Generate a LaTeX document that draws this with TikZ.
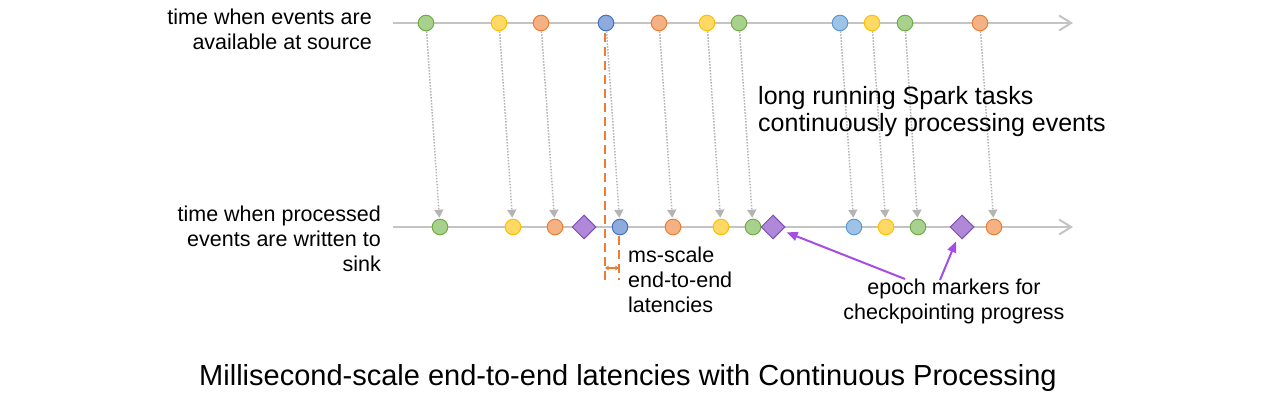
\documentclass[tikz,border=0pt]{standalone}
\usepackage{fontspec}
\setmainfont{Liberation Sans}
\usetikzlibrary{shapes.geometric}
\usetikzlibrary{arrows.meta}
\usetikzlibrary{positioning}

\definecolor{axisgray}{HTML}{C4C4C4}
\definecolor{flowgray}{HTML}{B4B4B4}
\definecolor{evgreenfill}{HTML}{A9D18E}
\definecolor{evgreenline}{HTML}{70AD47}
\definecolor{evyellowfill}{HTML}{FFD966}
\definecolor{evyellowline}{HTML}{FFC000}
\definecolor{evorangefill}{HTML}{F4B183}
\definecolor{evorangeline}{HTML}{ED7D31}
\definecolor{evbluefill}{HTML}{8FAADC}
\definecolor{evblueline}{HTML}{4472C4}
\definecolor{evskyfill}{HTML}{9DC3E6}
\definecolor{evskyline}{HTML}{5B9BD5}
\definecolor{epochfill}{HTML}{B088DA}
\definecolor{epochline}{HTML}{7E4FB0}
\definecolor{markerpurple}{HTML}{A64CE6}

\tikzset{
  event/.style={circle, minimum size=15.6pt, inner sep=0pt, line width=1pt},
  evgreen/.style={event, fill=evgreenfill, draw=evgreenline},
  evyellow/.style={event, fill=evyellowfill, draw=evyellowline},
  evorange/.style={event, fill=evorangefill, draw=evorangeline},
  evblue/.style={event, fill=evbluefill, draw=evblueline},
  evsky/.style={event, fill=evskyfill, draw=evskyline},
  epoch/.style={diamond, minimum size=24pt, inner sep=0pt, line width=1pt,
    fill=epochfill, draw=epochline},
  timeline/.style={axisgray, line width=2.5pt,
    -{Straight Barb[length=12pt,width=15pt,line width=2pt]}},
  flow/.style={flowgray, line width=1.5pt, dash pattern=on 1.5pt off 1.5pt,
    -{Triangle[length=8pt,width=9pt,sep=1pt]}},
  latency/.style={evorangeline, line width=1.8pt, dash pattern=on 9pt off 5pt},
  latarrow/.style={evorangeline, line width=1.5pt,
    {Stealth[length=4pt,width=5pt]}-{Stealth[length=4pt,width=5pt]}},
  marker/.style={markerpurple, line width=2pt,
    -{Triangle[length=11pt,width=9pt]}},
  smalltext/.style={inner sep=0pt, font=\fontsize{21.5}{25}\selectfont},
  bigtext/.style={inner sep=0pt, font=\fontsize{25}{27}\selectfont}
}

\begin{document}
\begin{tikzpicture}[x=1pt, y=-1pt]
\useasboundingbox (0,0) rectangle (1270,403);

\coordinate (srcstart) at (393,23);
\coordinate (srcend) at (1073,23);
\coordinate (sinkstart) at (393,227);
\coordinate (sinkend) at (1073,227);
\draw[timeline] (srcstart) -- (srcend);
\draw[timeline] (sinkstart) -- (sinkend);

% events at source
\node[evgreen] (s1) at (426,23) {};
\node[evyellow] (s2) at (499,23) {};
\node[evorange] (s3) at (541,23) {};
\node[evblue] (s4) at (606,23) {};
\node[evorange] (s5) at (659,23) {};
\node[evyellow] (s6) at (707,23) {};
\node[evgreen] (s7) at (739,23) {};
\node[evsky] (s8) at (840,23) {};
\node[evyellow] (s9) at (872,23) {};
\node[evgreen] (s10) at (905,23) {};
\node[evorange] (s11) at (980,23) {};

% events written to sink
\node[evgreen] (k1) at (440,227) {};
\node[evyellow] (k2) at (513,227) {};
\node[evorange] (k3) at (555,227) {};
\node[epoch] (e1) at (584,227) {};
\node[evblue] (k4) at (620,227) {};
\node[evorange] (k5) at (673,227) {};
\node[evyellow] (k6) at (721,227) {};
\node[evgreen] (k7) at (753,227) {};
\node[epoch] (e2) at (773,227) {};
\node[evsky] (k8) at (854,227) {};
\node[evyellow] (k9) at (886,227) {};
\node[evgreen] (k10) at (918,227) {};
\node[epoch] (e3) at (962,227) {};
\node[evorange] (k11) at (994,227) {};

\draw[flow] (s1) -- (k1);
\draw[flow] (s2) -- (k2);
\draw[flow] (s3) -- (k3);
\draw[flow] (s4) -- (k4);
\draw[flow] (s5) -- (k5);
\draw[flow] (s6) -- (k6);
\draw[flow] (s7) -- (k7);
\draw[flow] (s8) -- (k8);
\draw[flow] (s9) -- (k9);
\draw[flow] (s10) -- (k10);
\draw[flow] (s11) -- (k11);

% latency
\coordinate (srcdrop) at (605,282);
\coordinate (sinkdrop) at (619,280);
\coordinate (lata) at (605,268);
\coordinate (latb) at (619,268);
\draw[latency] (605,33) -- (srcdrop);
\draw[latency] (619,236) -- (sinkdrop);
\draw[latarrow] (lata) -- (latb);

% labels
\node[smalltext, anchor=base east, align=right] (srclabel) at (372,50)
  {time when events are\\available at source};
\node[smalltext, anchor=base east, align=right] (sinklabel) at (381,272)
  {time when processed\\events are written to\\sink};
\node[bigtext, anchor=base west, align=left] (tasklabel) at (758,132)
  {long running Spark tasks\\continuously processing events};
\node[smalltext, anchor=base west, align=left] (latlabel) at (628,313)
  {ms-scale\\end-to-end\\latencies};
\node[smalltext, anchor=base, align=center] (epochlabel) at (954,320)
  {epoch markers for\\checkpointing progress};
\node[inner sep=0pt, anchor=base, font=\fontsize{29}{32}\selectfont] (caption) at (628,386)
  {Millisecond-scale end-to-end latencies with Continuous Processing};

\coordinate (tail1) at (905,279);
\coordinate (tail2) at (940,280);
\draw[marker, shorten >=5pt] (tail1) -- (e2);
\draw[marker, shorten >=6pt] (tail2) -- (e3);
\end{tikzpicture}
\end{document}
